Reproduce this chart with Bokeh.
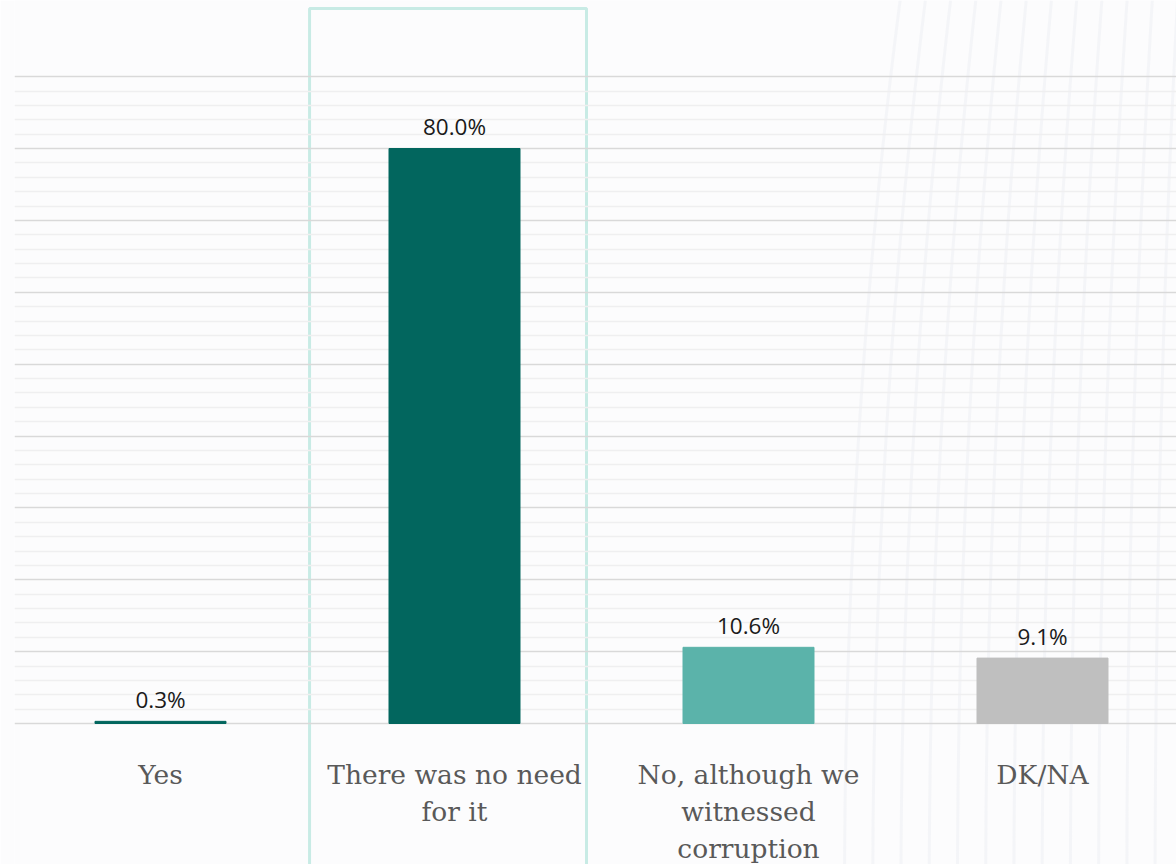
import numpy as np
from bokeh.plotting import figure
from bokeh.models import FixedTicker, ColumnDataSource, Range1d
from bokeh.core.properties import value
from bokeh.embed import file_html
from bokeh.resources import INLINE

categories = ["Yes", "There was no need\nfor it", "No, although we\nwitnessed\ncorruption", "DK/NA"]
values = [0.3, 80.0, 10.6, 9.1]
labels = ["0.3%", "80.0%", "10.6%", "9.1%"]
colors = ["#02665e", "#02665e", "#5bb3aa", "#bfbfbf"]
highlight_index = 1

W, H = 1176, 864
left_border = 14
px_per_cat = 294.0
first_center_px = 160.0
base_px = 723.0
px_per_unit = 575.0 / 80.0

x0 = (left_border - first_center_px) / px_per_cat
x1 = (W - first_center_px) / px_per_cat
y0 = -(H - base_px) / px_per_unit
y1 = base_px / px_per_unit

p = figure(width=W, height=H, output_backend="svg", toolbar_location=None,
           x_range=Range1d(x0, x1), y_range=Range1d(y0, y1),
           min_border_left=left_border, min_border_right=0, min_border_top=0, min_border_bottom=0)
p.xaxis.visible = False
p.yaxis.visible = False
p.outline_line_color = None
p.background_fill_color = "#fcfcfd"
p.border_fill_color = "#fcfcfd"
p.xgrid.visible = False

p.ygrid.ticker = FixedTicker(ticks=list(range(0, 100, 10)),
                             minor_ticks=[v for v in range(2, 90, 2) if v % 10 != 0])
p.ygrid.grid_line_color = "#d9d9d9"
p.ygrid.grid_line_width = 1.5
p.ygrid.minor_grid_line_color = "#efeff0"
p.ygrid.minor_grid_line_width = 1.5

# faint decorative globe-like meridians in the right background
def to_dx(px):
    return (px - first_center_px) / px_per_cat

def to_dy(py):
    return (base_px - py) / px_per_unit

ys_px = np.linspace(0, H, 60)
mer_xs, mer_ys = [], []
for a in np.linspace(40, 520, 18):
    xs_px = 1364 - a * np.sqrt(1 - ((ys_px - 900) / 2000.0) ** 2)
    mer_xs.append(list(to_dx(xs_px)))
    mer_ys.append(list(to_dy(ys_px)))
p.multi_line(xs=mer_xs, ys=mer_ys, line_color="#eceef1", line_width=3, line_alpha=0.45, level="image")

# highlight box around the selected category
hx = highlight_index
p.quad(left=[hx - 0.493], right=[hx + 0.449], top=[to_dy(8)], bottom=[y0 - 5],
       fill_color=None, line_color="#c8ebe5", line_width=3, level="image")

xs = list(range(len(categories)))
src = ColumnDataSource(dict(x=xs, top=values, color=colors, label=labels, cat=categories,
                            ly=[v + 6.5 / px_per_unit for v in values]))
p.vbar(x="x", top="top", bottom=0, width=131 / px_per_cat, color="color", source=src)

p.text(x="x", y="ly", text="label", source=src, text_align="center", text_baseline="bottom",
       text_font=value("Open Sans"), text_font_size="22.5px", text_color="#1a1a1a")

p.text(x="x", y=0, text="cat", source=src, text_align="center", text_baseline="top",
       y_offset=35, text_font=value("DejaVu Serif"), text_font_size="26.5px", text_color="#595959",
       text_line_height=1.2)

open("out.html", "w").write(file_html(p, INLINE))
